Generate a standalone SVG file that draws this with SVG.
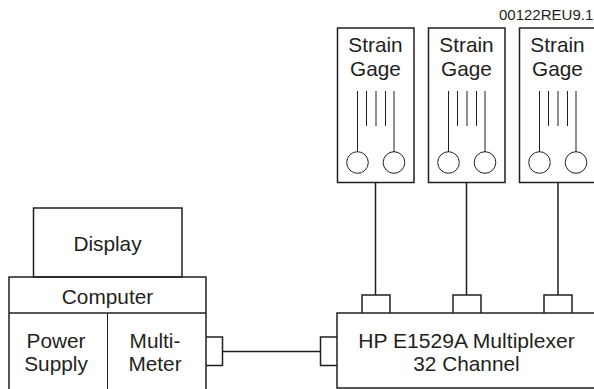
<svg xmlns="http://www.w3.org/2000/svg" width="594" height="389" viewBox="0 0 594 389">
<style>
.b{fill:none;stroke:#231f20;stroke-width:1.5}
.t{fill:none;stroke:#231f20;stroke-width:1}
text{font-family:"Liberation Sans",Arial,sans-serif;font-size:20.8px;fill:#231f20;text-anchor:middle}
</style>
<defs>
<g id="gage">
<rect class="b" x="337.500" y="28" width="76.500" height="154.500"/>
<path class="t" d="M357.500 91V152M366.500 91V126M376 91V126M385.500 91V126M394 91V152"/>
<circle class="t" cx="357.500" cy="162.500" r="10.800"/>
<circle class="t" cx="394" cy="162.500" r="10.800"/>
<text x="375.500" y="52">Strain</text>
<text x="375.500" y="76">Gage</text>
</g>
</defs>
<rect width="594" height="389" fill="#fff"/>
<text id="ref" x="499" y="20" style="font-size:15px;text-anchor:start">00122REU9.1</text>
<g id="gage1"><use href="#gage"/></g>
<g id="gage2"><use href="#gage" x="91"/></g>
<g id="gage3"><use href="#gage" x="182"/></g>
<g id="display"><rect class="b" x="33.500" y="208" width="148.500" height="69"/><text x="107.500" y="251">Display</text></g>
<g id="computer"><path class="b" d="M9 389V277H206V389M9 313H206"/><text x="107.500" y="304">Computer</text></g>
<g id="power"><path class="t" d="M107.500 313V389"/><text x="56" y="347.500">Power</text><text x="56" y="371">Supply</text></g>
<g id="meter"><text x="155" y="347.500">Multi-</text><text x="155" y="371">Meter</text></g>
<g id="mux"><path class="b" d="M594 313H337V388H594"/><text x="466.500" y="347.500" style="font-size:21.100px">HP E1529A Multiplexer</text><text x="466.500" y="371">32 Channel</text></g>
<g id="connectors">
<path class="b" d="M206 337H222.500V365.500H206M222.500 351.500H320.500M337 337H320.500V365.500H337"/>
<path class="b" d="M375.500 182.500V295M362 313V295H390V313M466.500 182.500V295M453 313V295H481V313M558 182.500V295M544 313V295H572V313"/>
</g>
</svg>
